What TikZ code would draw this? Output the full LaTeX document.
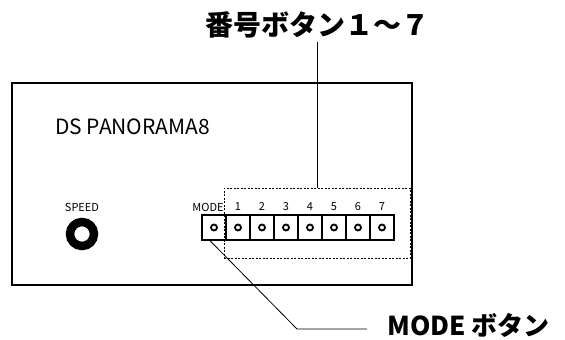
\documentclass[tikz,border=0pt]{standalone}
\usepackage{fontspec}
\setmainfont{Noto Sans CJK JP}
\tikzset{
  panel/.style={draw, line width=2.4pt},
  btn/.style={draw, line width=1.4pt, minimum width=24pt, minimum height=25pt, inner sep=0pt},
  led/.style={draw, circle, line width=1.8pt, minimum size=6pt, inner sep=0pt},
  grpbox/.style={draw, line width=1pt, dash pattern=on 2pt off 1.5pt, minimum width=186pt, minimum height=70pt},
  small/.style={font=\fontsize{11}{12}\selectfont, inner sep=0pt},
  big/.style={font=\fontsize{28}{30}\selectfont\bfseries},
  leader/.style={line width=0.8pt}
}
\begin{document}
\begin{tikzpicture}[x=1pt,y=-1pt]
  \useasboundingbox (0,0) rectangle (565,340);

  % unit
  \draw[panel] (12,83) rectangle (412,285);
  \node[anchor=west, font=\fontsize{21}{24}\selectfont, inner sep=0pt] (name) at (55,127) {DS PANORAMA8};

  % speed knob
  \node[small] (speedlbl) at (82,207) {SPEED};
  \node[circle, draw, line width=8.5pt, minimum size=24pt, inner sep=0pt] (knob) at (82,234) {};

  % buttons
  \node[grpbox] (grp) at (317,223) {};
  \foreach \i in {0,...,7} {
    \node[btn] (b\i) at (214+24*\i,227.5) {};
    \node[led] (l\i) at (b\i) {};
  }
  \node[small] (modelbl) at (208,207) {MODE};
  \foreach \i in {1,...,7}
    \node[small] (n\i) at (214+24*\i,207) {\i};

  % callouts
  \node[big, inner sep=4pt] (title) at (317,25) {番号ボタン１～７};
  \draw[leader] (grp.north) -- (grp.north |- title.south);

  \node[big, font=\fontsize{26}{28}\selectfont\bfseries, anchor=west, inner sep=0pt] (modecap) at (387,325) {MODE ボタン};
  \coordinate (elbow) at (297,329);
  \draw[leader] ([xshift=-4pt]b0.south) -- (elbow) -- ([xshift=-20pt]modecap.west |- elbow);
\end{tikzpicture}
\end{document}
